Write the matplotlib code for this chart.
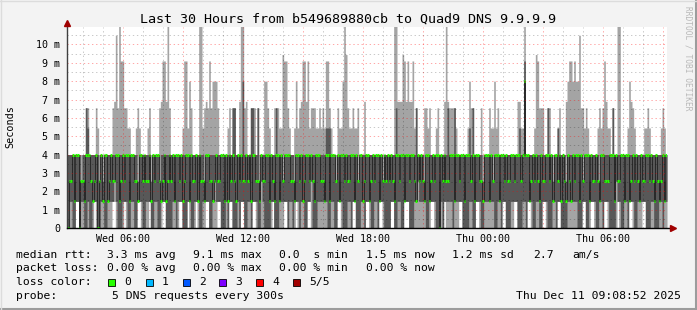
import datetime as dt
import numpy as np
import matplotlib
matplotlib.use('Agg')
import matplotlib.pyplot as plt
import matplotlib.dates as mdates
from matplotlib.ticker import MultipleLocator, FuncFormatter
from matplotlib.lines import Line2D
from matplotlib.patches import Rectangle

# rtt levels (ms) used by the sample strings below
levels = {'0': 0.0, '1': 1.45, '2': 2.55, '3': 4.0, '4': 5.45, '5': 6.55, '6': 6.9,
          '7': 8.0, '8': 9.1, '9': 9.45, 'A': 10.5, 'T': 11.0}

# 5 pings per 5 min step, one chunk = 1 hour (12 steps)
ping_top = ["333333333335", "533335433333", "33356A5T8855", "443334543333", "453333356886",
            "T53333333488", "4753333TT456", "585777533333", "45355336TT56", "335553533377",
            "543355544988", "543347456886", "845554454548", "8543335447T9", "544544533363",
            "333333333333", "3333TT666986", "866845333355", "45333453336T", "655554333333",
            "475533335333", "354474533333", "3333336644T3", "333349855533", "553333453336",
            "7887877A5545", "433333454586", "433533TT3333", "476543333344", "543333334543"]
ping_hi = ["332323332235", "433323323233", "323233332323", "323323233332", "332323323233",
           "233323323323", "323233332323", "323323233323", "332553323723", "335532523233",
           "323335323233", "332323323323", "323233332334", "443332323323", "323323233323",
           "332323323233", "323335323323", "323325323323", "332323323332", "533353323323",
           "343523323233", "323233323323", "323323343373", "332323233323", "533233433322",
           "323323323233", "323323323332", "343533233323", "332323233323", "323233332323"]
ping_med = ["023313302313", "332133023133", "133323313323", "313332133233", "230313321331",
            "332313323133", "313323133213", "332133323313", "133321333233", "231333213323",
            "313203313233", "333213323133", "323313333213", "313332313323", "233313233133",
            "313323313232", "333213323313", "323331333213", "313323303233", "233313323313",
            "332313332133", "313233313323", "233313332383", "313323313233", "323133231330",
            "331323313233", "313233213323", "233303323313", "313323313233", "323313203313"]
ping_lo = ["011001101100", "100110001100", "110121000110", "001100111001", "110021001110",
           "000110111000", "110011000111", "100121110001", "011000101100", "110111002100",
           "000110011111", "011011001100", "112000110011", "001100111000", "110110001101",
           "110011011100", "001100110011", "100011200110", "011110001011", "100011111000",
           "011001110011", "110000110110", "001121000110", "111001100111", "000110110001",
           "110011000110", "011110011011", "100012100011", "011100111110", "001100010011"]
ping_bot = ["000001100000", "000011000000", "001110000011", "000000110000", "011000000110",
            "000000011000", "100001100001", "100000110000", "011000001100", "000110000000",
            "001100000011", "000001100000", "110000001100", "000000110000", "000110000001",
            "100000011000", "001100000011", "100000011000", "001100000010", "011000011000",
            "000001100000", "001100000110", "000011000000", "110000000110", "000000110000",
            "001100000110", "001100000011", "000000110000", "011000000110", "000000011000"]

y_ticks = [0, 1, 2, 3, 4, 5, 6, 7, 8, 9, 10]
loss_colors = ['#26ff00', '#00b8ff', '#0059ff', '#7e00ff', '#ff0000', '#a10000']
loss_labels = ['0', '1', '2', '3', '4', '5/5']

start = dt.datetime(2025, 12, 10, 3, 11)
step = dt.timedelta(minutes=5)


def decode(chunks):
    s = ''.join(chunks)
    assert len(s) == 360
    return np.array([levels[c] for c in s])


pings = np.sort(np.vstack([decode(ping_bot), decode(ping_lo), decode(ping_med),
                           decode(ping_hi), decode(ping_top)]), axis=0)
p1, p2, p3, p4, p5 = pings
n = len(p3)
t = mdates.date2num([start + i * step for i in range(n + 1)])


def ext(a):
    return np.append(a, a[-1])


W, H = 697, 310
mono = 'DejaVu Sans Mono'
fig = plt.figure(figsize=(W / 100, H / 100), dpi=100, facecolor='#f3f3f3')
ax = fig.add_axes([67 / W, 82 / H, 600 / W, 201 / H])
ax.set_facecolor('white')

# smoke
ax.fill_between(t, ext(p1), ext(p5), step='post', color='#a4a4a4', lw=0, zorder=1)
ax.fill_between(t, ext(p2), ext(p4), step='post', color='#585858', lw=0, zorder=1.1)

# median
ax.step(t, ext(p3), where='post', color='#202020', lw=0.6, zorder=2)
ax.hlines(p3, t[:-1], t[1:], color=loss_colors[0], lw=2.2, zorder=2.1)

ax.set_xlim(t[0], mdates.date2num(start + dt.timedelta(hours=30)))
ax.set_ylim(0, 10.95)

ax.xaxis.set_major_locator(mdates.HourLocator(byhour=range(0, 24, 3)))
ax.xaxis.set_minor_locator(mdates.HourLocator())


def fmt_x(v, pos):
    d = mdates.num2date(v)
    return d.strftime('%a %H:%M') if d.hour % 6 == 0 else ''


ax.xaxis.set_major_formatter(FuncFormatter(fmt_x))
ax.set_yticks(y_ticks)
ax.set_yticklabels(['0' if v == 0 else f'{v} m' for v in y_ticks])
ax.yaxis.set_minor_locator(MultipleLocator(0.5))

ax.set_axisbelow(False)
ax.grid(which='major', color='#ff0000', alpha=0.35, lw=0.7, ls=(0, (1.4, 2.8)))
ax.grid(which='minor', color='#000000', alpha=0.22, lw=0.7, ls=(0, (1.4, 2.8)))
ax.tick_params(which='both', length=0)
ax.tick_params(axis='x', labelsize=7.2, pad=4)
ax.tick_params(axis='y', labelsize=7.2, pad=5)
for lab in ax.get_xticklabels() + ax.get_yticklabels():
    lab.set_family(mono)
for s in ax.spines.values():
    s.set_visible(False)

# axes with arrows
ax.plot([0, 0], [0, 1 + 5 / 201], transform=ax.transAxes, clip_on=False, color='#404040', lw=1, zorder=6)
ax.plot([0, 1 + 4 / 600], [0, 0], transform=ax.transAxes, clip_on=False, color='#000000', lw=1, zorder=6)
ax.plot([0], [1 + 4 / 201], marker='^', ms=4, color='#a00000', transform=ax.transAxes, clip_on=False, zorder=7)
ax.plot([1 + 6 / 600], [0], marker='>', ms=4, color='#a00000', transform=ax.transAxes, clip_on=False, zorder=7)


def txt(x, y, s, va='center', **kw):
    fig.text(x / W, 1 - y / H, s, family=mono, va=va, **kw)


txt(348, 19, 'Last 30 Hours from b549689880cb to Quad9 DNS 9.9.9.9', ha='center', fontsize=9.6)
txt(10, 127, 'Seconds', ha='center', rotation=90, fontsize=7.3)
txt(688, 6, 'RRDTOOL / TOBI OETIKER', va='top', ha='center', rotation=270, fontsize=5.7, color='#b8b8b8')

fs = 8.2
for x, s in [(16, 'median rtt:'), (107, '3.3 ms avg'), (193, '9.1 ms max'), (279, '0.0  s min'),
             (366, '1.5 ms now'), (452, '1.2 ms sd'), (533, '2.7'), (572, 'am/s')]:
    txt(x, 255, s, fontsize=fs)
for x, s in [(16, 'packet loss:'), (107, '0.00 % avg'), (193, '0.00 % max'),
             (279, '0.00 % min'), (366, '0.00 % now')]:
    txt(x, 268, s, fontsize=fs)
txt(16, 282, 'loss color:', fontsize=fs)
box_x = [108, 146, 183, 219, 256, 293]
for bx, c, lab in zip(box_x, loss_colors, loss_labels):
    fig.patches.append(Rectangle((bx / W, 1 - 286 / H), 7 / W, 7 / H, transform=fig.transFigure,
                                 facecolor=c, edgecolor='black', lw=0.6))
    txt(bx + 16, 282, lab, fontsize=fs)
txt(16, 296, 'probe:', fontsize=fs)
txt(112, 296, '5 DNS requests every 300s', fontsize=fs)
txt(681, 296, 'Thu Dec 11 09:08:52 2025', ha='right', fontsize=fs)

# frame
fig.add_artist(Line2D([0, 1], [1 / H, 1 / H], color='#9c9c9c', lw=1.5, transform=fig.transFigure))
fig.add_artist(Line2D([1 - 1 / W, 1 - 1 / W], [0, 1], color='#9c9c9c', lw=1.5, transform=fig.transFigure))
fig.add_artist(Line2D([0, 1], [1 - 0.5 / H, 1 - 0.5 / H], color='#dcdcdc', lw=1, transform=fig.transFigure))
fig.add_artist(Line2D([0.5 / W, 0.5 / W], [0, 1], color='#dcdcdc', lw=1, transform=fig.transFigure))

fig.savefig('out.png', dpi=100, facecolor=fig.get_facecolor())
